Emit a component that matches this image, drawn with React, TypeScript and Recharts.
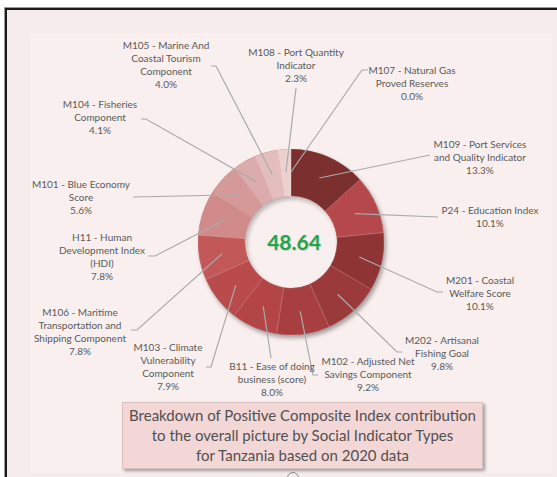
import React from 'react';
import { PieChart, Pie, Cell } from 'recharts';

// slices, clockwise from 12 o'clock
const labelLines: string[][] = [
  ['M109 - Port Services', 'and Quality Indicator'],
  ['P24 - Education Index'],
  ['M201 - Coastal', 'Welfare Score'],
  ['M202 - Artisanal', 'Fishing Goal'],
  ['M102 - Adjusted Net', 'Savings Component'],
  ['B11 - Ease of doing', 'business (score)'],
  ['M103 - Climate', 'Vulnerability', 'Component'],
  ['M106 - Maritime', 'Transportation and', 'Shipping Component'],
  ['H11 - Human', 'Development Index', '(HDI)'],
  ['M101 - Blue Economy', 'Score'],
  ['M104 - Fisheries', 'Component'],
  ['M105 - Marine And', 'Coastal Tourism', 'Component'],
  ['M108 - Port Quantity', 'Indicator'],
  ['M107 - Natural Gas', 'Proved Reserves'],
];
const shares = [13.3, 10.1, 10.1, 9.8, 9.2, 8.0, 7.9, 7.8, 7.8, 5.6, 4.1, 4.0, 2.3, 0.0];
const sliceColors = [
  '#7b2f2f', '#b5484a', '#8f3435', '#9b3a3b', '#a73f40', '#b34546', '#b94b4c',
  '#c35859', '#d08a8a', '#d59999', '#dcabab', '#e4bebe', '#edd0d0', '#efd6d6',
];
const totalScore = '48.64';
const titleLines = [
  'Breakdown of Positive Composite Index contribution',
  'to the overall picture by Social Indicator Types',
  'for Tanzania based on 2020 data',
];

const data = labelLines.map((lines, i) => ({ name: lines.join(' '), value: shares[i] }));

// label placement: text centre x, first line y, leader end (lx, ly), optional hook end hx
const labelLayout: { x: number; y: number; lx: number; ly: number; hx?: number }[] = [
  { x: 480, y: 144, lx: 430, ly: 155 },
  { x: 490, y: 210, lx: 438, ly: 217 },
  { x: 480, y: 280, lx: 437, ly: 292, hx: 443 },
  { x: 442, y: 340, lx: 397, ly: 352, hx: 402 },
  { x: 368, y: 361, lx: 313, ly: 375, hx: 318 },
  { x: 272, y: 366, lx: 271, ly: 358 },
  { x: 168, y: 347, lx: 211, ly: 367, hx: 206 },
  { x: 80, y: 312, lx: 137, ly: 330, hx: 131 },
  { x: 102, y: 237, lx: 155, ly: 256, hx: 148 },
  { x: 81, y: 184, lx: 133, ly: 197 },
  { x: 100, y: 104, lx: 146, ly: 119, hx: 141 },
  { x: 166, y: 45, lx: 216, ly: 66, hx: 211 },
  { x: 296, y: 52, lx: 296, ly: 88 },
  { x: 412, y: 70, lx: 362, ly: 70, hx: 368 },
];

const CX = 291;
const CY = 242;
const OUTER = 93;
const INNER = 46;
const FONT = 'Lato, "Open Sans", sans-serif';

const renderLabel = (props: any) => {
  const { cx, cy, midAngle, index, value } = props;
  const pos = labelLayout[index];
  const rad = Math.PI / 180;
  const r = 70;
  const sx = cx + r * Math.cos(-midAngle * rad);
  const sy = cy + r * Math.sin(-midAngle * rad);
  const pts = [`${sx},${sy}`, `${pos.lx},${pos.ly}`];
  if (pos.hx !== undefined) pts.push(`${pos.hx},${pos.ly}`);
  const lines = [...labelLines[index], `${Number(value).toFixed(1)}%`];
  return (
    <g key={`lbl-${index}`}>
      <polyline points={pts.join(' ')} fill="none" stroke="#ababab" strokeWidth={1.2} />
      <text textAnchor="middle" fill="#5a5a5a" fontSize={10} fontFamily={FONT}>
        {lines.map((t, i) => (
          <tspan key={i} x={pos.x} y={pos.y + i * 13} dominantBaseline="central">
            {t}
          </tspan>
        ))}
      </text>
    </g>
  );
};

export default function App() {
  return (
    <div style={{ position: 'absolute', left: 0, top: 0, width: 557, height: 477, background: '#ffffff', overflow: 'hidden' }}>
      {/* frame */}
      <div style={{ position: 'absolute', left: 5, top: 8, width: 560, height: 480, background: '#f7ecec', borderTop: '2px solid #1a1a1a', borderLeft: '2px solid #1a1a1a', boxShadow: '-1px -1px 0 #9a9a9a' }} />
      <div style={{ position: 'absolute', left: 30, top: 33, width: 522, height: 440, background: '#f8efee' }} />
      {/* ring shadow + hole shading */}
      <div style={{ position: 'absolute', left: CX - OUTER, top: CY - OUTER, width: OUTER * 2, height: OUTER * 2, borderRadius: '50%', background: '#a84444', boxShadow: '2px 3px 4px rgba(0,0,0,0.35)' }} />
      <div style={{ position: 'absolute', left: CX - INNER, top: CY - INNER, width: INNER * 2, height: INNER * 2, borderRadius: '50%', background: '#f8efee', boxShadow: 'inset 2px 3px 4px rgba(0,0,0,0.25)' }} />
      <div style={{ position: 'absolute', left: 0, top: 0 }}>
        <PieChart width={557} height={477} margin={{ top: 0, right: 0, bottom: 0, left: 0 }}>
          <Pie
            data={data}
            dataKey="value"
            nameKey="name"
            cx={CX}
            cy={CY}
            innerRadius={INNER}
            outerRadius={OUTER}
            startAngle={90}
            endAngle={-270}
            label={renderLabel}
            labelLine={false}
            isAnimationActive={false}
          >
            {data.map((d, i) => (
              <Cell key={d.name} fill={sliceColors[i]} stroke="rgba(255,255,255,0.25)" strokeWidth={0.6} />
            ))}
          </Pie>
        </PieChart>
      </div>
      {/* centre value */}
      <div style={{ position: 'absolute', left: CX + 3 - 50, top: CY - 14, width: 100, height: 28, lineHeight: '28px', textAlign: 'center', fontFamily: FONT, fontSize: 21, fontWeight: 700, color: '#1ea84d', textShadow: '1px 1px 1px rgba(0,0,0,0.15)' }}>
        {totalScore}
      </div>
      {/* title box */}
      <div style={{ position: 'absolute', left: 122, top: 402, width: 359, height: 63, background: '#f3d7d7', border: '1px solid #d9c2c2', boxShadow: '2px 2px 3px rgba(0,0,0,0.35)', fontFamily: FONT, fontSize: 15, lineHeight: '20px', color: '#505050', textAlign: 'center', paddingTop: 2, boxSizing: 'content-box' }}>
        {titleLines.map((t) => (
          <div key={t}>{t}</div>
        ))}
      </div>
      <div style={{ position: 'absolute', left: 287, top: 472, width: 10, height: 10, borderRadius: '50%', border: '1.5px solid #8c8c8c' }} />
    </div>
  );
}
